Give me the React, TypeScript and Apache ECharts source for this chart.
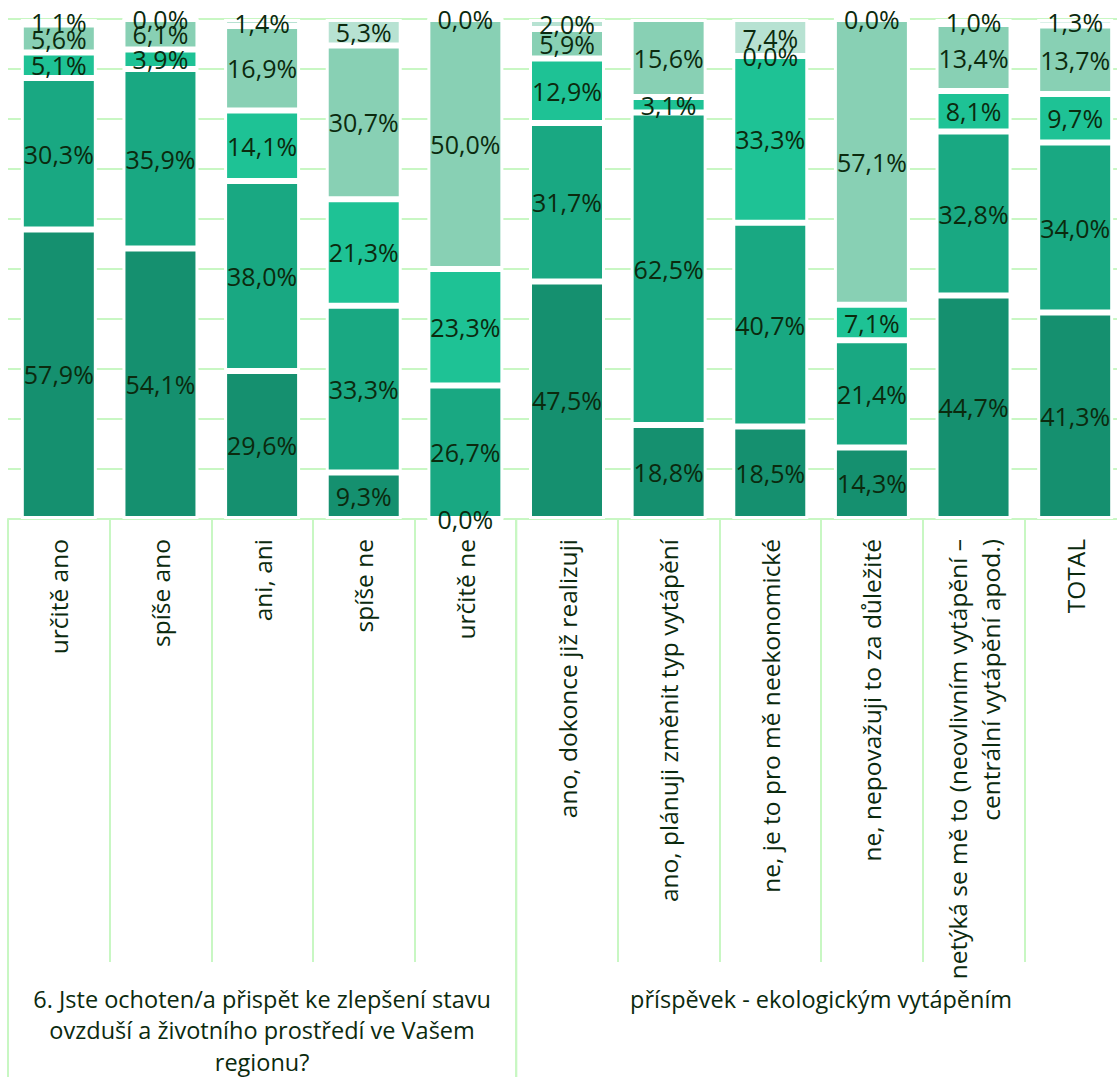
import React, { useEffect, useRef } from "react";
import * as echarts from "echarts";

const categories = [
  "určitě ano",
  "spíše ano",
  "ani, ani",
  "spíše ne",
  "určitě ne",
  "ano, dokonce již realizuji",
  "ano, plánuji změnit typ vytápění",
  "ne, je to pro mě neekonomické",
  "ne, nepovažuji to za důležité",
  "netýká se mě to (neovlivním vytápění –\ncentrální vytápění apod.)",
  "TOTAL",
];

const groupLabels = [
  "6. Jste ochoten/a přispět ke zlepšení stavu\novzduší a životního prostředí ve Vašem\nregionu?",
  "příspěvek - ekologickým vytápěním",
];
const groupStart = [0, 5];
const groupEnd = [4, 10];

const seriesNames = ["1", "2", "3", "4", "5"];
const s1 = [57.9, 54.1, 29.6, 9.3, 0.0, 47.5, 18.8, 18.5, 14.3, 44.7, 41.3];
const s2 = [30.3, 35.9, 38.0, 33.3, 26.7, 31.7, 62.5, 40.7, 21.4, 32.8, 34.0];
const s3 = [5.1, 3.9, 14.1, 21.3, 23.3, 12.9, 3.1, 33.3, 7.1, 8.1, 9.7];
const s4 = [5.6, 6.1, 16.9, 30.7, 50.0, 5.9, 15.6, 0.0, 57.1, 13.4, 13.7];
const s5 = [1.1, 0.0, 1.4, 5.3, 0.0, 2.0, 0.0, 7.4, 0.0, 1.0, 1.3];

const colors = ["#15906f", "#19a882", "#1ec295", "#88d0b4", "#b7e2d2"];
const textColor = "#0b2a0e";
const lineGreen = "#c8f7c3";
const FONT = "'Open Sans', 'Noto Sans', sans-serif";

export default function App() {
  const ref = useRef<HTMLDivElement>(null);

  useEffect(() => {
    if (!ref.current) return;
    const chart = echarts.init(ref.current, undefined, { renderer: "svg" });
    const all = [s1, s2, s3, s4, s5];
    const totals = categories.map((_, i) => all.reduce((a, s) => a + s[i], 0));

    const series = all.map((arr, k) => ({
      name: seriesNames[k],
      type: "bar",
      stack: "total",
      barWidth: 76,
      itemStyle: { color: colors[k], borderColor: "#ffffff", borderWidth: 3 },
      label: {
        show: true,
        position: "inside",
        color: textColor,
        fontFamily: FONT,
        fontSize: 25,
        formatter: (p: any) => p.data.raw.toFixed(1).replace(".", ",") + "%",
      },
      data: arr.map((v, i) => ({ value: (v / totals[i]) * 100, raw: v })),
    }));

    const option: any = {
      animation: false,
      grid: { left: 8, top: 19, width: 1118, height: 500 },
      xAxis: {
        type: "category",
        data: categories,
        axisLine: { show: true, lineStyle: { color: lineGreen, width: 2 } },
        axisTick: { show: true, length: 443, interval: 0, lineStyle: { color: lineGreen, width: 2 } },
        axisLabel: {
          interval: 0,
          rotate: 90,
          margin: 20,
          color: textColor,
          fontFamily: FONT,
          fontSize: 24.5,
          lineHeight: 33,
        },
      },
      yAxis: {
        type: "value",
        min: 0,
        max: 100,
        interval: 10,
        axisLabel: { show: false },
        axisLine: { show: false },
        axisTick: { show: false },
        splitLine: { show: true, lineStyle: { color: lineGreen, width: 2 } },
      },
      series,
    };
    chart.setOption(option);

    const px = (i: number) => chart.convertToPixel({ xAxisIndex: 0 }, i) as number;
    const y0 = chart.convertToPixel({ yAxisIndex: 0 }, 0) as number;
    const cw = px(1) - px(0);
    const graphics: any[] = [];
    groupLabels.forEach((lab, g) => {
      const left = px(groupStart[g]) - cw / 2;
      const right = px(groupEnd[g]) + cw / 2;
      [left, right].forEach((x) =>
        graphics.push({
          type: "line",
          shape: { x1: x, y1: y0, x2: x, y2: 1077 },
          style: { stroke: lineGreen, lineWidth: 2 },
          silent: true,
        })
      );
      graphics.push({
        type: "text",
        x: (left + right) / 2,
        y: y0 + 464,
        style: {
          text: lab,
          fill: textColor,
          font: `23.5px ${FONT}`,
          align: "center",
          verticalAlign: "top",
          lineHeight: 31.5,
        },
      });
    });
    chart.setOption({ graphic: graphics });

    return () => chart.dispose();
  }, []);

  return (
    <div style={{ position: "fixed", left: 0, top: 0, width: 1117, height: 1077, overflow: "hidden", background: "#fff" }}>
      <div ref={ref} style={{ width: 1130, height: 1077 }} />
    </div>
  );
}
